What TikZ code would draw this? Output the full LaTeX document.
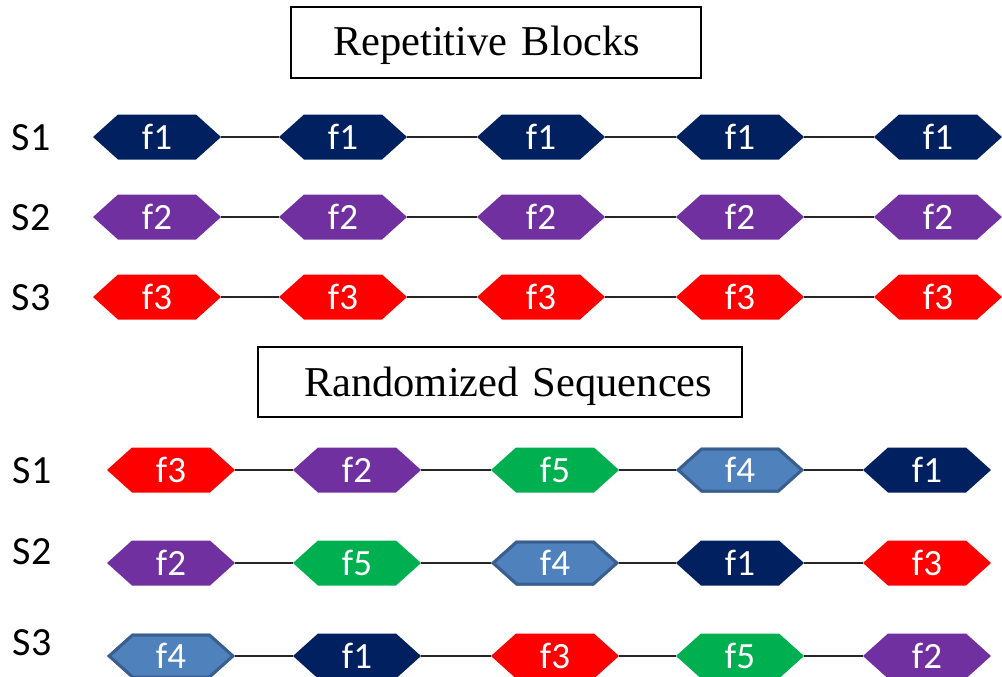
\documentclass[tikz,border=0pt]{standalone}
\usepackage{fontspec}
\setmainfont{Liberation Serif}
\newfontfamily\calibrifont{Carlito}
\definecolor{navyc}{HTML}{002060}
\definecolor{purplec}{HTML}{7030A0}
\definecolor{redc}{HTML}{FF0000}
\definecolor{greenc}{HTML}{00B050}
\definecolor{bluefill}{HTML}{4F81BD}
\definecolor{blueline}{HTML}{3A5F8E}
\tikzset{
  hexbase/.style={minimum width=128pt, minimum height=45pt, inner sep=0pt, text=white,
    font=\calibrifont\fontsize{37}{37}\selectfont},
  hexfill/.style={hexbase, path picture={
    \fill[#1] (path picture bounding box.west)
      -- ([xshift=25pt]path picture bounding box.north west)
      -- ([xshift=-25pt]path picture bounding box.north east)
      -- (path picture bounding box.east)
      -- ([xshift=-25pt]path picture bounding box.south east)
      -- ([xshift=25pt]path picture bounding box.south west) -- cycle;}},
  hexblue/.style={hexbase, path picture={
    \fill[bluefill] (path picture bounding box.west)
      -- ([xshift=25pt]path picture bounding box.north west)
      -- ([xshift=-25pt]path picture bounding box.north east)
      -- (path picture bounding box.east)
      -- ([xshift=-25pt]path picture bounding box.south east)
      -- ([xshift=25pt]path picture bounding box.south west) -- cycle;
    \draw[blueline, line width=3pt, line join=miter] ([xshift=2.2pt]path picture bounding box.west)
      -- ([xshift=25.7pt,yshift=-1.5pt]path picture bounding box.north west)
      -- ([xshift=-25.7pt,yshift=-1.5pt]path picture bounding box.north east)
      -- ([xshift=-2.2pt]path picture bounding box.east)
      -- ([xshift=-25.7pt,yshift=1.5pt]path picture bounding box.south east)
      -- ([xshift=25.7pt,yshift=1.5pt]path picture bounding box.south west) -- cycle;}},
  conn/.style={line width=1.5pt, black!85},
  lab/.style={font=\calibrifont\fontsize{40}{40}\selectfont, inner sep=0pt},
  titlebox/.style={draw, line width=1.3pt, inner xsep=0pt, inner ysep=0pt, align=left,
    font=\fontsize{42.5}{42.5}\selectfont},
}
\begin{document}
\begin{tikzpicture}[x=1pt,y=-1pt]
\useasboundingbox (0,0) rectangle (1002,677);
% titles
\node[titlebox, text width=410pt, text height=49pt, text depth=22pt] (t1) at (496,42.5) {\hspace*{42pt}Repetitive Blocks};
\node[titlebox, text width=484pt, text height=49pt, text depth=21pt] (t2) at (500,382) {\hspace*{46pt}Randomized Sequences};
% labels
\node[lab] (ls1) at (31,138) {S1};
\node[lab] (ls2) at (31,218) {S2};
\node[lab] (ls3) at (31,298) {S3};
\node[lab] (lr1) at (32,471) {S1};
\node[lab] (lr2) at (32,552) {S2};
\node[lab] (lr3) at (32,643) {S3};
% repetitive blocks
\foreach \x [count=\i] in {157,343,541,740,938}{
  \node[hexfill=navyc] (a\i) at (\x,137) {f1};
  \node[hexfill=purplec] (b\i) at (\x,217) {f2};
  \node[hexfill=redc] (c\i) at (\x,297) {f3};
}
\foreach \i [evaluate=\i as \j using int(\i+1)] in {1,...,4}{
  \draw[conn] (a\i.east) -- (a\j.west);
  \draw[conn] (b\i.east) -- (b\j.west);
  \draw[conn] (c\i.east) -- (c\j.west);
}
% randomized sequences
\node[hexfill=redc] (d1) at (171,470) {f3};
\node[hexfill=purplec] (d2) at (357,470) {f2};
\node[hexfill=greenc] (d3) at (555,470) {f5};
\node[hexblue] (d4) at (740,470) {f4};
\node[hexfill=navyc] (d5) at (927,470) {f1};
\node[hexfill=purplec] (e1) at (171,563) {f2};
\node[hexfill=greenc] (e2) at (357,563) {f5};
\node[hexblue] (e3) at (555,563) {f4};
\node[hexfill=navyc] (e4) at (740,563) {f1};
\node[hexfill=redc] (e5) at (927,563) {f3};
\node[hexblue] (g1) at (171,656) {f4};
\node[hexfill=navyc] (g2) at (357,656) {f1};
\node[hexfill=redc] (g3) at (555,656) {f3};
\node[hexfill=greenc] (g4) at (740,656) {f5};
\node[hexfill=purplec] (g5) at (927,656) {f2};
\foreach \i [evaluate=\i as \j using int(\i+1)] in {1,...,4}{
  \draw[conn] (d\i.east) -- (d\j.west);
  \draw[conn] (e\i.east) -- (e\j.west);
  \draw[conn] (g\i.east) -- (g\j.west);
}
\end{tikzpicture}
\end{document}
